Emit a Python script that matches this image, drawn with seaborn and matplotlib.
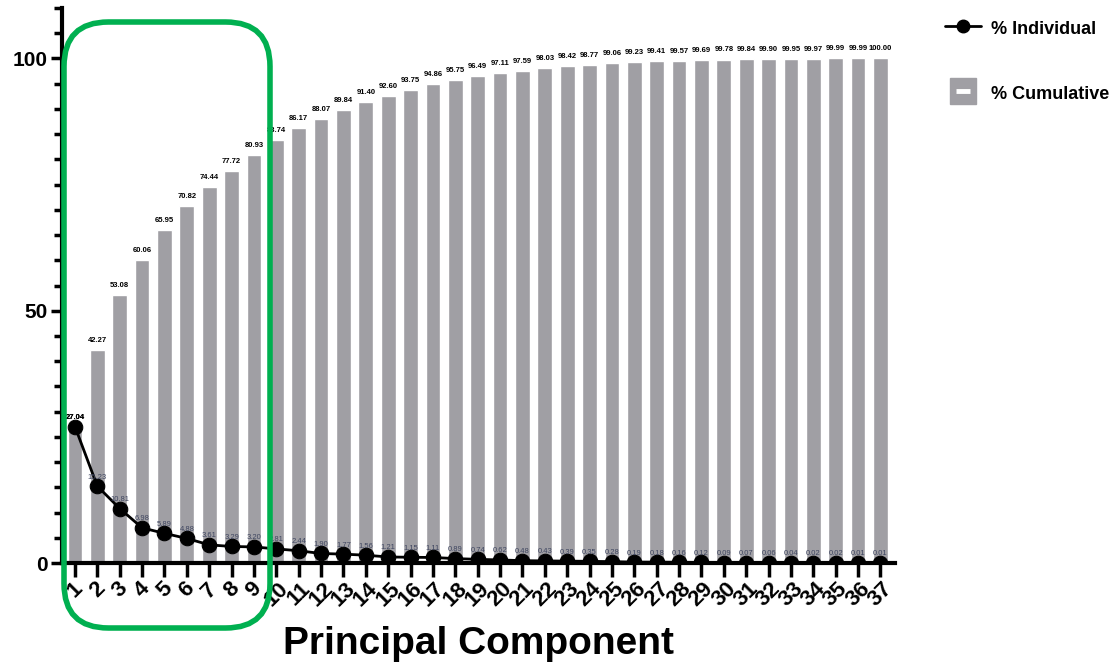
import numpy as np
import pandas as pd
import seaborn as sns
import matplotlib
matplotlib.use("Agg")
import matplotlib.pyplot as plt
from matplotlib.lines import Line2D
from matplotlib.patches import FancyBboxPatch
from matplotlib.legend_handler import HandlerTuple
from matplotlib.ticker import MultipleLocator

# Explained variance per principal component (%)
components = [str(i) for i in range(1, 38)]
individual = [27.04, 15.23, 10.81, 6.98, 5.89, 4.88, 3.61, 3.29, 3.20, 2.81,
              2.44, 1.90, 1.77, 1.56, 1.21, 1.15, 1.11, 0.89, 0.74, 0.62,
              0.48, 0.43, 0.39, 0.35, 0.28, 0.19, 0.18, 0.16, 0.12, 0.09,
              0.07, 0.06, 0.04, 0.02, 0.02, 0.01, 0.01]
cumulative = [27.04, 42.27, 53.08, 60.06, 65.95, 70.82, 74.44, 77.72, 80.93, 83.74,
              86.17, 88.07, 89.84, 91.40, 92.60, 93.75, 94.86, 95.75, 96.49, 97.11,
              97.59, 98.03, 98.42, 98.77, 99.06, 99.23, 99.41, 99.57, 99.69, 99.78,
              99.84, 99.90, 99.95, 99.97, 99.99, 99.99, 100.00]

df = pd.DataFrame({"pc": components, "idx": np.arange(len(components)),
                   "individual": individual, "cumulative": cumulative})

sns.set_style("ticks")
plt.rcParams["font.family"] = ["Liberation Sans", "DejaVu Sans"]
plt.rcParams["text.color"] = "black"
plt.rcParams["xtick.color"] = "black"
plt.rcParams["ytick.color"] = "black"
plt.rcParams["axes.edgecolor"] = "black"
plt.rcParams["axes.labelcolor"] = "black"

fig = plt.figure(figsize=(11.11, 6.64), dpi=100)
ax = fig.add_axes([0.0558, 0.152, 0.7502, 0.836])

bar_color = "#a09fa4"
sns.barplot(data=df, x="pc", y="cumulative", color=bar_color, width=0.66,
            saturation=1, ax=ax, zorder=1)
sns.lineplot(data=df, x="idx", y="individual", color="black", linewidth=2,
             marker="o", markersize=10.5, markeredgecolor="black", ax=ax, zorder=3)

# value labels
for i, v in enumerate(cumulative):
    ax.text(i, v + 1.2, f"{v:.2f}", ha="center", va="bottom", fontsize=5.5,
            fontweight="bold", color="black", zorder=4)
for i, v in enumerate(individual):
    ax.text(i, v + 1.1, f"{v:.2f}", ha="center", va="bottom", fontsize=5.5,
            color="#3f4660" if i else "black",
            fontweight="bold" if i == 0 else "normal", zorder=4)

ax.set_xlim(-0.58, 36.67)
ax.set_ylim(0, 110)
ax.set_yticks([0, 50, 100])
ax.yaxis.set_minor_locator(MultipleLocator(5))
ax.tick_params(axis="y", which="major", length=8, width=2.5, labelsize=15, pad=2)
ax.tick_params(axis="y", which="minor", length=6, width=2.5)
ax.tick_params(axis="x", which="major", length=10, width=2.5, labelsize=16, pad=1)
for lab in ax.get_yticklabels():
    lab.set_fontweight("bold")
for lab in ax.get_xticklabels():
    lab.set_fontweight("bold")
    lab.set_rotation(45)
    lab.set_ha("center")

ax.set_ylabel("")
ax.set_xlabel("Principal Component", fontsize=28, fontweight="bold", labelpad=11)
for side in ("top", "right"):
    ax.spines[side].set_visible(False)
for side in ("left", "bottom"):
    ax.spines[side].set_linewidth(3)

# legend
h_ind = Line2D([], [], color="black", lw=2, marker="o", markersize=9)
h_cum = (Line2D([], [], color=bar_color, marker="s", markersize=19, linestyle="none"),
         Line2D([], [], color="white", marker="_", markersize=10,
                markeredgewidth=3.5, linestyle="none"))
fig.legend([h_ind, h_cum], ["% Individual", "% Cumulative"],
           handler_map={tuple: HandlerTuple(ndivide=1, pad=0)},
           loc="upper left", bbox_to_anchor=(0.836, 0.997), frameon=False,
           labelspacing=2.5, handlelength=2.0, handleheight=1.3, handletextpad=0.55,
           prop={"weight": "bold", "size": 13})

# highlight frame around the first nine components
frame = FancyBboxPatch((64 / 1111, 1 - 628 / 664), (270 - 64) / 1111, (628 - 22) / 664,
                       boxstyle="round,pad=0,rounding_size=0.04",
                       transform=fig.transFigure, fill=False,
                       edgecolor="#00b050", linewidth=4, zorder=10,
                       mutation_aspect=1111 / 664)
fig.patches.append(frame)

fig.savefig("out.png", dpi=100)
